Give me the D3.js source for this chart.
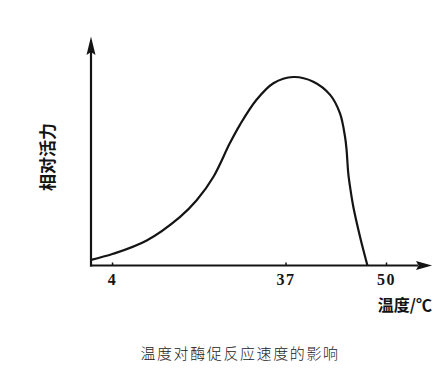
<!DOCTYPE html>
<html><head><meta charset="utf-8">
<script src="https://cdn.jsdelivr.net/npm/d3@7/dist/d3.min.js"></script>
<style>
html,body{margin:0;padding:0;background:#fff;}
svg{display:block;}
</style></head>
<body>
<script>
// Data (temperature °C, relative activity %)
const temps    = [0, 4.2, 10.6, 16.9, 20.1, 23.3, 26.4, 28.3, 31.45, 34.7, 38.0, 40.6, 42.8, 44.05, 44.7, 44.9, 45.12, 45.41, 45.77, 46.64, 47.6];
const activity = [3, 6.2, 13.3, 25.7, 34.6, 47.1, 64.8, 74.5, 87.8, 96.7, 100, 97.5, 90.4, 80.7, 68.3, 61.3, 48.9, 40.1, 31.2, 15.3, 0];
const tickValues = [4, 37, 50];
const xTitle = "温度/℃";
const yTitle = "相对活力";
const caption = "温度对酶促反应速度的影响";

const W = 436, H = 384;
const svg = d3.select("body").append("svg").attr("width", W).attr("height", H);

const x0 = 91, y0 = 265.5;
const x = d3.scaleLinear().domain([0, 37, 50]).range([x0, 285.5, 386]);
const y = d3.scaleLinear().domain([0, 100]).range([y0, 77]);

const ink = "#141414";

// axes lines with arrows
svg.append("line").attr("x1", x0 - 1).attr("x2", 418).attr("y1", y0).attr("y2", y0)
  .attr("stroke", ink).attr("stroke-width", 2.2);
svg.append("path").attr("d", `M432,${y0} L416,${y0-4.5} L418.5,${y0} L416,${y0+4.5} Z`).attr("fill", ink);
svg.append("line").attr("x1", x0).attr("x2", x0).attr("y1", y0 + 1).attr("y2", 52)
  .attr("stroke", ink).attr("stroke-width", 2.2);
svg.append("path").attr("d", `M${x0},36.5 L${x0-4.5},55 L${x0},52 L${x0+4.5},55 Z`).attr("fill", ink);

// ticks via d3 axis
const ax = svg.append("g").attr("transform", `translate(0,${y0})`)
  .call(d3.axisBottom(x).tickValues(tickValues).tickSizeInner(-3).tickSizeOuter(0).tickPadding(8).tickFormat(d3.format("d")));
ax.select(".domain").remove();
ax.selectAll(".tick line").attr("stroke", ink).attr("stroke-width", 1.5);
ax.selectAll(".tick text").attr("fill", ink)
  .style("font-family", "'Liberation Serif','DejaVu Serif',serif")
  .style("font-weight", "bold").style("font-size", "16px").style("letter-spacing", "1.5px");

// curve
const line = d3.line().x((d, i) => x(temps[i])).y((d, i) => y(activity[i])).curve(d3.curveCatmullRom.alpha(0.5));
svg.append("path").datum(activity).attr("d", line)
  .attr("fill", "none").attr("stroke", ink).attr("stroke-width", 2.2).attr("stroke-linejoin", "round");

// axis titles
svg.append("text").attr("x", 432).attr("y", 311).attr("text-anchor", "end")
  .style("font-family", "'Noto Sans CJK SC','Noto Serif CJK SC',serif").style("font-weight", "bold")
  .style("font-size", "16px").attr("fill", ink).text(xTitle);

svg.append("text").attr("transform", `translate(54,157) rotate(-90)`).attr("text-anchor", "middle")
  .style("font-family", "'Noto Sans CJK SC',sans-serif").style("font-weight", "bold")
  .style("font-size", "17px").attr("fill", ink).text(yTitle);

// caption
svg.append("text").attr("x", 240).attr("y", 359).attr("text-anchor", "middle")
  .style("font-family", "'Noto Sans CJK SC',sans-serif").style("font-weight", "300")
  .style("font-size", "15px").style("letter-spacing", "1.6px").attr("fill", "#222").text(caption);
</script>
</body></html>
